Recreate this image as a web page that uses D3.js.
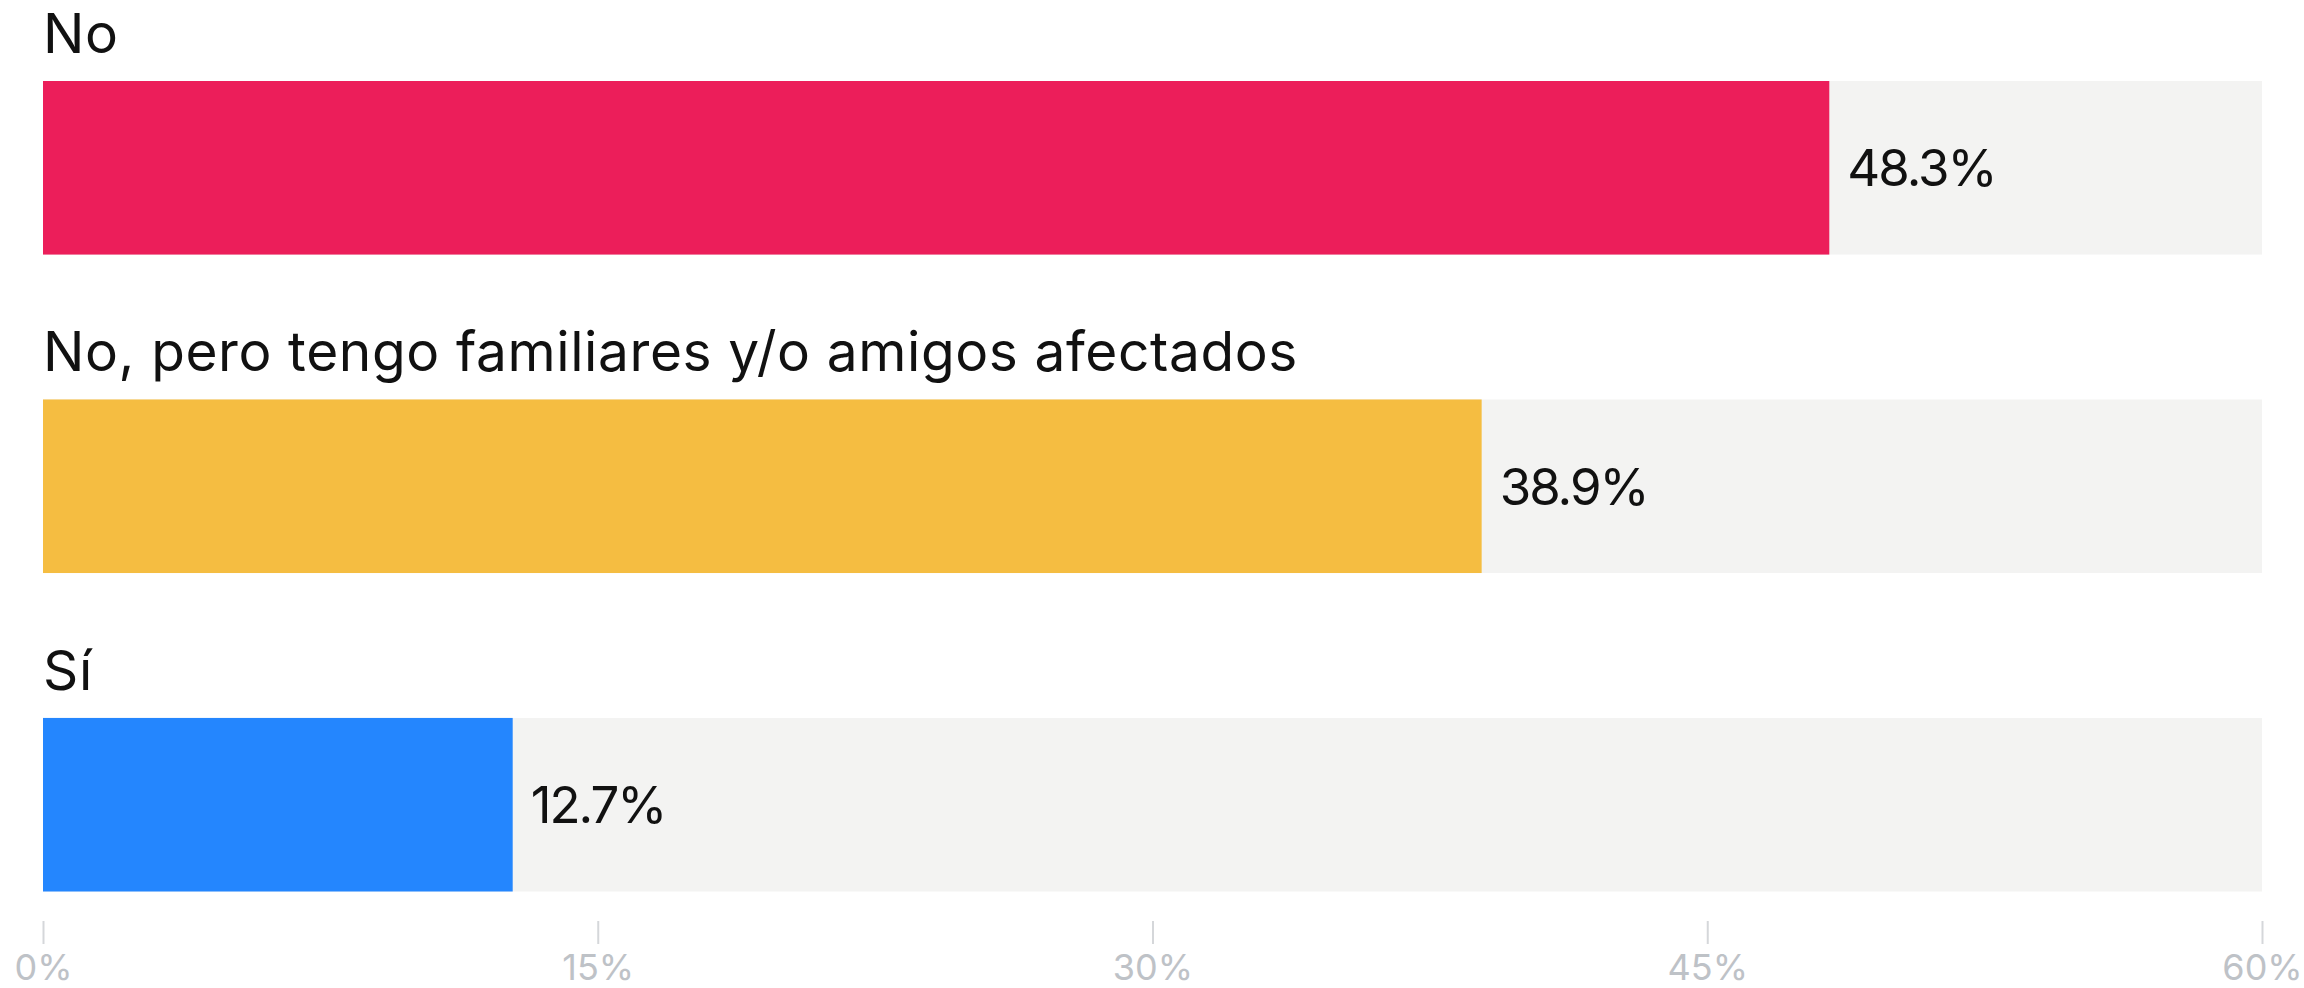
<!DOCTYPE html>
<html>
<head>
<meta charset="utf-8">
<script src="https://cdn.jsdelivr.net/npm/d3@7"></script>
<style>
  html, body { margin: 0; padding: 0; background: #ffffff; }
  svg { display: block; }
</style>
</head>
<body>
<svg id="chart" width="2304" height="988"></svg>
<script>
const categories = ["No", "No, pero tengo familiares y/o amigos afectados", "Sí"];
const values = [48.3, 38.9, 12.7];
const barColors = ["#EC1E5A", "#F5BD41", "#2486FE"];
const tickValues = [0, 15, 30, 45, 60];
const tickLabels = ["0%", "15%", "30%", "45%", "60%"];

const svg = d3.select("#chart");
const fontFamily = "Inter, 'DejaVu Sans', sans-serif";

const x = d3.scaleLinear().domain([0, 60]).range([43, 2262]);
const y = d3.scaleBand().domain(categories).range([81, 891.5]).paddingInner(0.455).paddingOuter(0);

const rows = svg.append("g").selectAll("g")
  .data(categories.map((c, i) => ({ c, v: values[i], color: barColors[i] })))
  .join("g");

// background track
rows.append("rect")
  .attr("x", x(0))
  .attr("y", d => y(d.c))
  .attr("width", x(60) - x(0))
  .attr("height", y.bandwidth())
  .attr("fill", "#F3F3F2");

// value bar
rows.append("rect")
  .attr("x", x(0))
  .attr("y", d => y(d.c))
  .attr("width", d => x(d.v) - x(0))
  .attr("height", y.bandwidth())
  .attr("fill", d => d.color);

// category label
rows.append("text")
  .attr("x", x(0))
  .attr("y", d => y(d.c) - 28)
  .attr("font-family", fontFamily)
  .attr("font-size", 55)
  .attr("letter-spacing", 0.6)
  .attr("fill", "#111111")
  .text(d => d.c);

// value label
rows.append("text")
  .attr("x", d => x(d.v) + 18)
  .attr("y", d => y(d.c) + y.bandwidth() / 2)
  .attr("dy", "0.36em")
  .attr("font-family", fontFamily)
  .attr("font-size", 51)
  .attr("letter-spacing", -2)
  .attr("fill", "#111111")
  .text(d => d.v.toFixed(1) + "%");

// axis
const axis = d3.axisBottom(x)
  .tickValues(tickValues)
  .tickFormat((d, i) => tickLabels[i])
  .tickSize(23)
  .tickPadding(10);

const gAxis = svg.append("g")
  .attr("transform", "translate(0,921)")
  .call(axis);
gAxis.select(".domain").remove();
gAxis.selectAll(".tick line").attr("stroke", "#D5D7DA").attr("stroke-width", 2);
gAxis.selectAll(".tick text")
  .attr("font-family", fontFamily)
  .attr("font-size", 36)
  .attr("fill", "#BEC2C7");
</script>
</body>
</html>
